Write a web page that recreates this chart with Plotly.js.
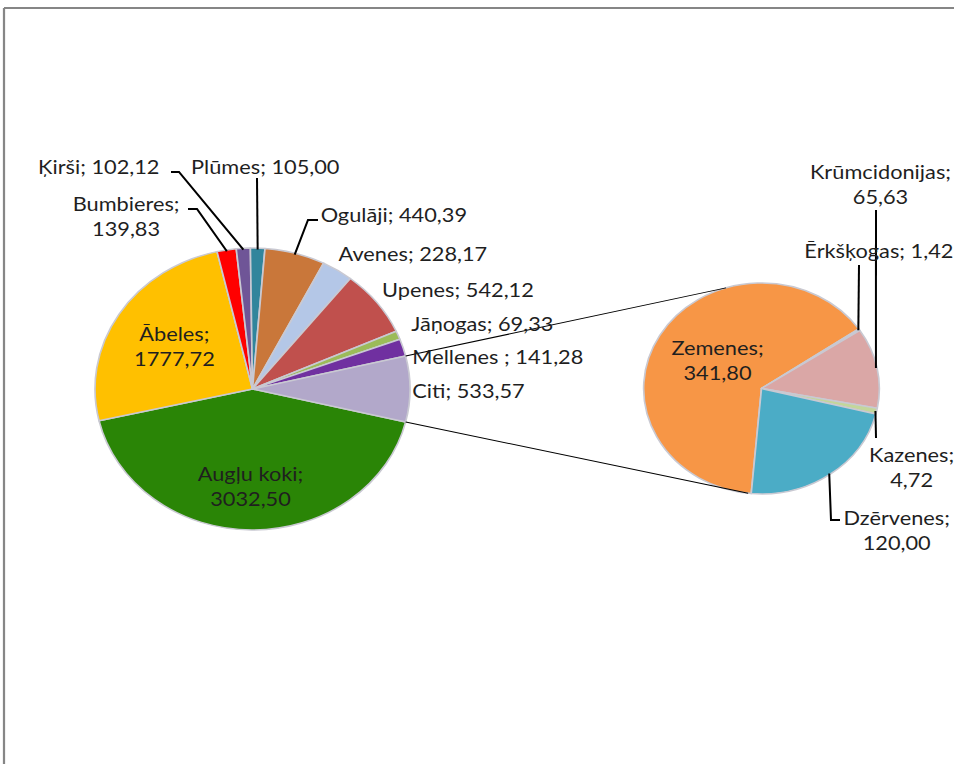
<!DOCTYPE html>
<html>
<head>
<meta charset="utf-8">
<script src="https://cdn.plot.ly/plotly-3.0.1.min.js"></script>
<style>
html,body{margin:0;padding:0;background:#fff;overflow:hidden;}
#chart{width:854px;height:764px;transform:scaleX(1.117096);transform-origin:0 0;}
</style>
</head>
<body>
<div id="chart"></div>
<script>
// ---- data ----
const mainNames = ['Augļu koki', 'Ābeles', 'Bumbieres', 'Ķirši', 'Plūmes', 'Ogulāji', 'Avenes', 'Upenes', 'Jāņogas', 'Mellenes ', 'Citi'];
const mainValues = [3032.50, 1777.72, 139.83, 102.12, 105.00, 440.39, 228.17, 542.12, 69.33, 141.28, 533.57];
const mainColors = ['#2a8506', '#ffc000', '#ff0000', '#6f5597', '#31859c', '#c9773a', '#b4c7e7', '#c0504d', '#9bbb59', '#7030a0', '#b2a8ca'];

const subNames = ['Zemenes', 'Ērkšķogas', 'Krūmcidonijas', 'Kazenes', 'Dzērvenes'];
const subValues = [341.80, 1.42, 65.63, 4.72, 120.00];
const subColors = ['#f79646', '#b9cde5', '#daa7a6', '#c3d69b', '#4bacc6'];

// ---- layout helpers ----
// The chart is drawn at 854 px wide and stretched horizontally to 954 px,
// reproducing the slightly widened (elliptical) look of the original.
const W = 954, H = 764, W0 = 854, S = W / W0;
const C1 = {x: 252.5, y: 389, r: 141};
const C2 = {x: 761.5, y: 388.5, r: 105.5};
const fmt = v => v.toFixed(2).replace('.', ',');
const px = x => x / W;
const py = y => 1 - y / H;

const sum = a => a.reduce((s, v) => s + v, 0);
const mainTotal = sum(mainValues);
const subTotal = sum(subValues);
const otherIdx = mainValues.length - 1;
const mainRotation = 90 + 0.5 * mainValues[otherIdx] / mainTotal * 360;
const subRotation = 185;

function midAngle(values, total, rot, i) {
  let before = 0;
  for (let k = 0; k < i; k++) before += values[k];
  return (rot + (before + values[i] / 2) / total * 360) * Math.PI / 180;
}
function edgeAngle(values, total, rot, i, end) {
  let before = 0;
  for (let k = 0; k < i + (end ? 1 : 0); k++) before += values[k];
  return (rot + before / total * 360) * Math.PI / 180;
}
function onCircle(c, a, f) {
  f = f || 1;
  return [c.x + S * c.r * f * Math.sin(a), c.y - c.r * f * Math.cos(a)];
}
function dom(c) {
  return {x: [(c.x / S - c.r) / W0, (c.x / S + c.r) / W0], y: [py(c.y + c.r), py(c.y - c.r)]};
}

const traces = [
  {
    type: 'pie', values: mainValues, labels: mainNames, sort: false,
    direction: 'clockwise', rotation: mainRotation,
    marker: {colors: mainColors, line: {color: '#c9c9d2', width: 1.5}},
    textinfo: 'none', hoverinfo: 'none', showlegend: false,
    domain: dom(C1)
  },
  {
    type: 'pie', values: subValues, labels: subNames, sort: false,
    direction: 'clockwise', rotation: subRotation,
    marker: {colors: subColors, line: {color: '#c9c9d2', width: 1.5}},
    textinfo: 'none', hoverinfo: 'none', showlegend: false,
    domain: dom(C2)
  }
];

// label placement (reference pixel positions, anchor, line break)
const mainLabelPos = {
  'Augļu koki': {x: 251, y: 486, br: true, a: 'center'},
  'Ābeles': {x: 174, y: 346, br: true, a: 'center'},
  'Bumbieres': {x: 126, y: 216, br: true, a: 'center'},
  'Ķirši': {x: 162, y: 167, a: 'right'},
  'Plūmes': {x: 189, y: 166, a: 'left'},
  'Ogulāji': {x: 318, y: 214, a: 'left'},
  'Avenes': {x: 336, y: 253, a: 'left'},
  'Upenes': {x: 380, y: 289, a: 'left'},
  'Jāņogas': {x: 409, y: 324, a: 'left'},
  'Mellenes ': {x: 410, y: 356, a: 'left'},
  'Citi': {x: 410, y: 390, a: 'left'}
};
const subLabelPos = {
  'Zemenes': {x: 718, y: 360, br: true, a: 'center'},
  'Ērkšķogas': {x: 802, y: 250, a: 'left'},
  'Krūmcidonijas': {x: 880, y: 184, br: true, a: 'center'},
  'Kazenes': {x: 911, y: 467, br: true, a: 'center'},
  'Dzērvenes': {x: 896, y: 530, br: true, a: 'center'}
};
// leader-line elbow points near labels (reference pixels)
const mainLeaders = {
  'Ķirši': [[171, 172], [179, 172]],
  'Bumbieres': [[188, 209], [197, 209]],
  'Plūmes': [[257, 178]],
  'Ogulāji': [[318, 220], [308, 220]]
};
const subLeaders = {
  'Krūmcidonijas': [[876, 210]],
  'Ērkšķogas': [[859, 265]],
  'Kazenes': [[876, 438]],
  'Dzērvenes': [[840, 520], [831, 520]]
};

const font = {family: 'Lato, "Open Sans", sans-serif', size: 19.5, color: '#1f1f1f'};
const annotations = [];
function addLabels(names, values, pos) {
  names.forEach((n, i) => {
    const p = pos[n];
    if (!p) return;
    const txt = n + ';' + (p.br ? '<br>' : ' ') + fmt(values[i]);
    annotations.push({
      xref: 'paper', yref: 'paper', x: px(p.x), y: py(p.y),
      xanchor: p.a, yanchor: 'middle', align: 'center',
      text: txt, showarrow: false, font: font
    });
  });
}
addLabels(mainNames, mainValues, mainLabelPos);
addLabels(subNames, subValues, subLabelPos);

const shapes = [];
function pathOf(pts) {
  return pts.map((p, k) => (k ? 'L' : 'M') + px(p[0]).toFixed(5) + ',' + py(p[1]).toFixed(5)).join(' ');
}
function addLeaders(names, values, total, rot, c, leaders) {
  names.forEach((n, i) => {
    const L = leaders[n];
    if (!L) return;
    const end = onCircle(c, midAngle(values, total, rot, i), 0.99);
    shapes.push({type: 'path', xref: 'paper', yref: 'paper', path: pathOf(L.concat([end])),
      line: {color: '#000', width: 1.8}});
  });
}
addLeaders(mainNames, mainValues, mainTotal, mainRotation, C1, mainLeaders);
addLeaders(subNames, subValues, subTotal, subRotation, C2, subLeaders);

// connector lines between the "Citi" slice and the second pie
const citiTop = onCircle(C1, edgeAngle(mainValues, mainTotal, mainRotation, otherIdx, false));
const citiBot = onCircle(C1, edgeAngle(mainValues, mainTotal, mainRotation, otherIdx, true));
const subTop = onCircle(C2, -17.5 * Math.PI / 180);
const subBot = onCircle(C2, 186.5 * Math.PI / 180);
shapes.push({type: 'path', xref: 'paper', yref: 'paper', path: pathOf([citiTop, subTop]), line: {color: '#000', width: 1}});
shapes.push({type: 'path', xref: 'paper', yref: 'paper', path: pathOf([citiBot, subBot]), line: {color: '#000', width: 1}});

// chart frame (top and left edges visible)
shapes.push({type: 'line', xref: 'paper', yref: 'paper', x0: px(4), x1: px(960), y0: py(8), y1: py(8), line: {color: '#868686', width: 2}});
shapes.push({type: 'line', xref: 'paper', yref: 'paper', x0: px(4), x1: px(4), y0: py(8), y1: py(770), line: {color: '#868686', width: 2}});

const layout = {
  width: W0, height: H,
  margin: {l: 0, r: 0, t: 0, b: 0},
  paper_bgcolor: '#ffffff',
  showlegend: false,
  annotations: annotations,
  shapes: shapes
};
Plotly.newPlot('chart', traces, layout, {displayModeBar: false, staticPlot: true});
</script>
</body>
</html>
